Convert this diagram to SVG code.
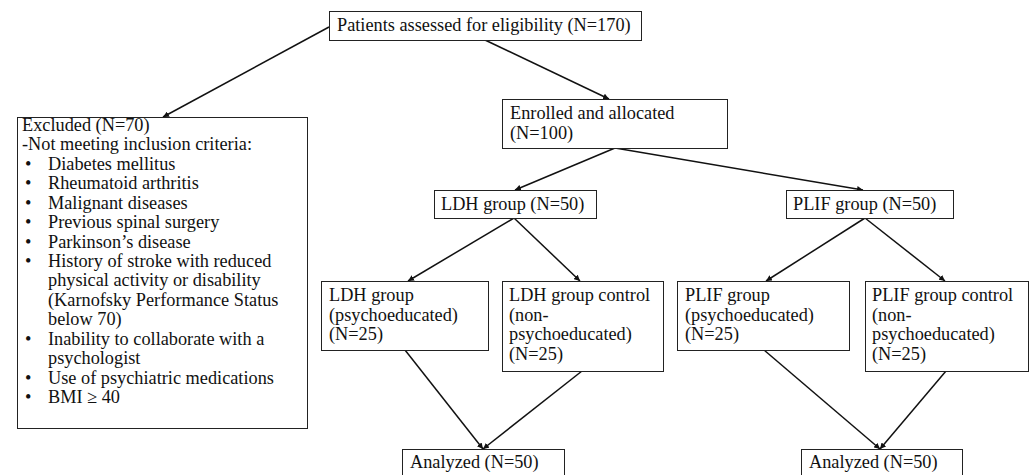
<svg xmlns="http://www.w3.org/2000/svg" width="1032" height="475" viewBox="0 0 1032 475">
<style>
.box{fill:#fff;stroke:#222;stroke-width:1}
.t{font-family:"Liberation Serif","Times New Roman",serif;font-size:18.3px;fill:#111}
.c{stroke:#111;stroke-width:1.5;fill:none;marker-end:url(#ah)}
</style>
<defs>
<marker id="ah" viewBox="0 0 10 10" refX="10" refY="5" markerWidth="6" markerHeight="6" markerUnits="userSpaceOnUse" orient="auto">
<path d="M0,0 L10,5 L0,10 z" fill="#111"/>
</marker>
</defs>
<rect width="1032" height="475" fill="#fff"/>
<g id="connectors">
<line class="c" x1="329" y1="27" x2="163" y2="117"/>
<line class="c" x1="485" y1="40" x2="609" y2="99"/>
<line class="c" x1="615" y1="148" x2="515" y2="190"/>
<line class="c" x1="615" y1="148" x2="863" y2="190"/>
<line class="c" x1="514" y1="218" x2="408" y2="281"/>
<line class="c" x1="514" y1="218" x2="580" y2="281"/>
<line class="c" x1="865" y1="218" x2="766" y2="281"/>
<line class="c" x1="865" y1="218" x2="945" y2="281"/>
<line class="c" x1="405" y1="350" x2="483" y2="449"/>
<line class="c" x1="582" y1="371" x2="483" y2="449"/>
<line class="c" x1="764" y1="350" x2="880" y2="449"/>
<line class="c" x1="946" y1="371" x2="880" y2="449"/>
</g>
<g id="assessed">
<rect class="box" x="329.5" y="11.5" width="312" height="29"/>
<text class="t" x="337" y="31">Patients assessed for eligibility (N=170)</text>
</g>
<g id="excluded">
<rect class="box" x="17.5" y="117.5" width="290" height="311"/>
<text class="t" x="22" y="131">Excluded (N=70)</text>
<text class="t" x="22" y="150.4">-Not meeting inclusion criteria:</text>
<g>
<text class="t" x="25" y="169.9">•</text>
<text class="t" x="48" y="169.9">Diabetes mellitus</text>
<text class="t" x="25" y="189.3">•</text>
<text class="t" x="48" y="189.3">Rheumatoid arthritis</text>
<text class="t" x="25" y="208.7">•</text>
<text class="t" x="48" y="208.7">Malignant diseases</text>
<text class="t" x="25" y="228.1">•</text>
<text class="t" x="48" y="228.1">Previous spinal surgery</text>
<text class="t" x="25" y="247.6">•</text>
<text class="t" x="48" y="247.6">Parkinson’s disease</text>
<text class="t" x="25" y="267">•</text>
<text class="t" x="48" y="267">History of stroke with reduced</text>
<text class="t" x="48" y="286.4">physical activity or disability</text>
<text class="t" x="48" y="305.9">(Karnofsky Performance Status</text>
<text class="t" x="48" y="325.3">below 70)</text>
<text class="t" x="25" y="344.7">•</text>
<text class="t" x="48" y="344.7">Inability to collaborate with a</text>
<text class="t" x="48" y="364.1">psychologist</text>
<text class="t" x="25" y="383.6">•</text>
<text class="t" x="48" y="383.6">Use of psychiatric medications</text>
<text class="t" x="25" y="403">•</text>
<text class="t" x="48" y="403">BMI ≥ 40</text>
</g>
</g>
<g id="enrolled">
<rect class="box" x="502.5" y="99.5" width="225" height="49"/>
<text class="t" x="510" y="119">Enrolled and allocated</text>
<text class="t" x="510" y="139">(N=100)</text>
</g>
<g id="ldh">
<rect class="box" x="434.5" y="190.5" width="162" height="28"/>
<text class="t" x="441" y="210">LDH group (N=50)</text>
</g>
<g id="plif">
<rect class="box" x="786.5" y="190.5" width="167" height="28"/>
<text class="t" x="793" y="210">PLIF group (N=50)</text>
</g>
<g id="ldh-psy">
<rect class="box" x="321.5" y="281.5" width="167" height="69"/>
<text class="t" x="329" y="301">LDH group</text>
<text class="t" x="329" y="320.5">(psychoeducated)</text>
<text class="t" x="329" y="340">(N=25)</text>
</g>
<g id="ldh-ctrl">
<rect class="box" x="502.5" y="281.5" width="161" height="90"/>
<text class="t" x="509" y="301">LDH group control</text>
<text class="t" x="509" y="320.5">(non-</text>
<text class="t" x="509" y="340">psychoeducated)</text>
<text class="t" x="509" y="359.5">(N=25)</text>
</g>
<g id="plif-psy">
<rect class="box" x="677.5" y="281.5" width="172" height="69"/>
<text class="t" x="685" y="301">PLIF group</text>
<text class="t" x="685" y="320.5">(psychoeducated)</text>
<text class="t" x="685" y="340">(N=25)</text>
</g>
<g id="plif-ctrl">
<rect class="box" x="865.5" y="281.5" width="163" height="90"/>
<text class="t" x="872" y="301">PLIF group control</text>
<text class="t" x="872" y="320.5">(non-</text>
<text class="t" x="872" y="340">psychoeducated)</text>
<text class="t" x="872" y="359.5">(N=25)</text>
</g>
<g id="analyzed-ldh">
<rect class="box" x="402.5" y="449.5" width="162" height="32"/>
<text class="t" x="410" y="468">Analyzed (N=50)</text>
</g>
<g id="analyzed-plif">
<rect class="box" x="801.5" y="449.5" width="161" height="32"/>
<text class="t" x="809" y="468">Analyzed (N=50)</text>
</g>
</svg>
